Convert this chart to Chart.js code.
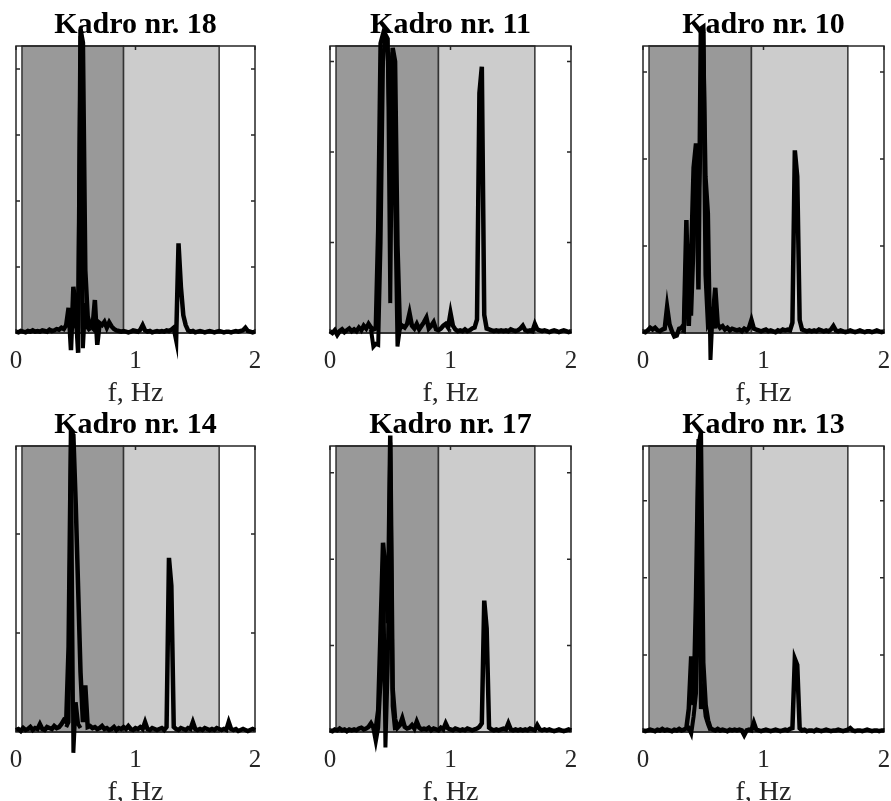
<!DOCTYPE html>
<html>
<head>
<meta charset="utf-8">
<title>Kadro spectra</title>
<script src="https://cdn.jsdelivr.net/npm/chart.js"></script>
<style>
    html, body { margin: 0; padding: 0; background: #fff; }
    body { width: 891px; height: 801px; overflow: hidden; position: relative; }
    .panel { position: absolute; }
</style>
</head>
<body>
<div id="grid"></div>
<script>
// frequency grid, Hz
const freq = [
    0, 0.02, 0.04, 0.06, 0.08, 0.10, 0.12, 0.14, 0.16, 0.18,
    0.20, 0.22, 0.24, 0.26, 0.28, 0.30, 0.32, 0.34, 0.36, 0.38,
    0.40, 0.42, 0.44, 0.46, 0.48, 0.50, 0.52, 0.54, 0.56, 0.58,
    0.60, 0.62, 0.64, 0.66, 0.68, 0.70, 0.72, 0.74, 0.76, 0.78,
    0.80, 0.82, 0.84, 0.86, 0.88, 0.90, 0.92, 0.94, 0.96, 0.98,
    1.00, 1.02, 1.04, 1.06, 1.08, 1.10, 1.12, 1.14, 1.16, 1.18,
    1.20, 1.22, 1.24, 1.26, 1.28, 1.30, 1.32, 1.34, 1.36, 1.38,
    1.40, 1.42, 1.44, 1.46, 1.48, 1.50, 1.52, 1.54, 1.56, 1.58,
    1.60, 1.62, 1.64, 1.66, 1.68, 1.70, 1.72, 1.74, 1.76, 1.78,
    1.80, 1.82, 1.84, 1.86, 1.88, 1.90, 1.92, 1.94, 1.96, 1.98,
    2.00
];

const titles = ['Kadro nr. 18', 'Kadro nr. 11', 'Kadro nr. 10', 'Kadro nr. 14', 'Kadro nr. 17', 'Kadro nr. 13'];
const xTicks = [0, 1, 2];
const yMax = [4.35, 3.17, 3.30, 2.89, 3.31, 3.71];

// shaded frequency bands
const bandFrom = [0.05, 0.9];
const bandTo = [0.9, 1.7];
const bandColors = ['#999999', '#cccccc'];

const k18 = [
    0.02, 0.01, 0.03, 0.02, 0.01, 0.03, 0.02, 0.04, 0.02, 0.03,
    0.02, 0.04, 0.03, 0.02, 0.05, 0.03, 0.04, 0.06, 0.05, 0.08,
    0.06, 0.12, 0.38, -0.26, 0.70, 0.35, -0.30, 4.60, 4.40, 0.95,
    0.25, 0.12, 0.08, 0.50, -0.18, 0.15, 0.12, 0.17, 0.08, 0.16,
    0.10, 0.06, 0.04, 0.03, 0.02, 0.03, 0.02, 0.01, 0.02, 0.04,
    0.03, 0.02, 0.05, 0.12, 0.04, 0.02, 0.03, 0.01, 0.02, 0.03,
    0.02, 0.03, 0.02, 0.04, 0.03, 0.05, 0.08, -0.10, 1.36, 0.70,
    0.27, 0.12, 0.04, 0.02, 0.03, 0.01, 0.02, 0.03, 0.02, 0.01,
    0.02, 0.03, 0.02, 0.01, 0.02, 0.03, 0.02, 0.01, 0.02, 0.02,
    0.01, 0.02, 0.03, 0.02, 0.03, 0.04, 0.08, 0.03, 0.02, 0.01,
    0.02
];
const k18ExtraF = [0.46, 0.48, 0.50, 0.52, 0.54, 0.56, 0.58, 0.60, 0.62];
const k18Extra = [0.05, 0.20, 0.10, 0.10, 4.50, -0.23, 0.45, 0.08, 0.03];

const k11 = [
    0.02, 0.00, 0.03, -0.02, 0.02, 0.04, 0.01, 0.03, 0.05, 0.02,
    0.04, 0.02, 0.06, 0.03, 0.08, 0.05, 0.10, 0.06, 0.04, 0.05,
    1.14, 3.20, 3.30, 3.20, 3.10, 2.06, 3.15, 3.00, 0.97, 0.05,
    0.08, 0.06, 0.10, 0.22, 0.08, 0.05, 0.10, 0.04, 0.08, 0.12,
    0.17, 0.05, 0.08, 0.12, 0.04, 0.03, 0.05, 0.08, 0.10, 0.06,
    0.22, 0.08, 0.04, 0.02, 0.03, 0.02, 0.04, 0.02, 0.03, 0.05,
    0.06, 0.15, 2.65, 2.94, 0.20, 0.05, 0.04, 0.03, 0.02, 0.03,
    0.02, 0.03, 0.02, 0.03, 0.02, 0.04, 0.03, 0.02, 0.03, 0.05,
    0.08, 0.03, 0.02, 0.03, 0.02, 0.10, 0.04, 0.03, 0.02, 0.03,
    0.02, 0.01, 0.02, 0.03, 0.02, 0.01, 0.02, 0.03, 0.02, 0.01,
    0.02
];
const k11ExtraF = [0.34, 0.36, 0.38, 0.40, 0.42, 0.44, 0.46, 0.48, 0.50, 0.52, 0.54, 0.56, 0.58];
const k11Extra = [0.04, -0.15, -0.12, -0.13, 1.00, 3.00, 3.30, 3.25, 0.33, 3.10, 1.50, -0.15, 0.05];

const k10 = [
    0.02, 0.01, 0.03, 0.06, 0.04, 0.06, 0.03, 0.02, 0.04, 0.05,
    0.30, 0.10, 0.02, -0.04, -0.03, 0.05, 0.06, 0.10, 1.30, 0.08,
    0.90, 1.90, 2.18, 0.50, 3.50, 3.52, 0.67, 0.10, 0.15, 0.20,
    0.52, 0.10, 0.06, 0.08, 0.04, 0.06, 0.03, 0.05, 0.04, 0.03,
    0.04, 0.02, 0.05, 0.03, 0.06, 0.15, 0.05, 0.04, 0.03, 0.02,
    0.03, 0.04, 0.02, 0.03, 0.02, 0.01, 0.03, 0.02, 0.04, 0.03,
    0.04, 0.03, 0.12, 2.10, 1.80, 0.15, 0.04, 0.03, 0.02, 0.03,
    0.02, 0.03, 0.02, 0.04, 0.03, 0.02, 0.03, 0.02, 0.04, 0.08,
    0.03, 0.02, 0.03, 0.02, 0.01, 0.02, 0.03, 0.02, 0.01, 0.02,
    0.03, 0.02, 0.01, 0.02, 0.02, 0.01, 0.02, 0.03, 0.02, 0.01,
    0.02
];
const k10ExtraF = [0.32, 0.34, 0.36, 0.38, 0.40, 0.42, 0.44, 0.46, 0.48, 0.50, 0.52, 0.54, 0.56, 0.58, 0.60];
const k10Extra = [0.03, 0.02, 1.00, 1.00, 0.20, 1.00, 1.87, 1.50, 2.20, 3.50, 1.80, 1.38, -0.31, 0.30, 0.05];

const k14 = [
    0.02, 0.03, 0.01, 0.04, 0.02, 0.03, 0.05, 0.02, 0.04, 0.03,
    0.08, 0.03, 0.02, 0.05, 0.04, 0.03, 0.06, 0.04, 0.05, 0.08,
    0.12, 0.10, 0.86, 3.03, 3.00, 2.30, 1.45, 0.60, 0.10, 0.47,
    0.05, 0.06, 0.04, 0.05, 0.03, 0.04, 0.06, 0.03, 0.04, 0.02,
    0.03, 0.05, 0.02, 0.04, 0.03, 0.05, 0.03, 0.06, 0.03, 0.02,
    0.04, 0.03, 0.05, 0.03, 0.10, 0.03, 0.02, 0.04, 0.03, 0.02,
    0.03, 0.04, 0.02, 0.05, 1.76, 1.48, 0.05, 0.03, 0.02, 0.04,
    0.03, 0.02, 0.04, 0.03, 0.10, 0.03, 0.02, 0.03, 0.02, 0.04,
    0.03, 0.02, 0.03, 0.02, 0.04, 0.03, 0.02, 0.03, 0.02, 0.10,
    0.03, 0.02, 0.03, 0.01, 0.02, 0.03, 0.02, 0.01, 0.02, 0.03,
    0.02
];
const k14ExtraF = [0.42, 0.44, 0.46, 0.48, 0.50, 0.52, 0.54];
const k14Extra = [0.05, 0.10, 2.90, -0.21, 0.30, 0.08, 0.04];

const k17 = [
    0.02, 0.01, 0.03, 0.02, 0.04, 0.02, 0.03, 0.01, 0.03, 0.02,
    0.03, 0.02, 0.04, 0.05, 0.03, 0.04, 0.06, 0.10, 0.05, 0.04,
    0.25, 1.20, 2.19, 1.87, 1.26, 3.43, 0.50, 0.15, 0.05, 0.08,
    0.16, 0.06, 0.04, 0.05, 0.08, 0.04, 0.12, 0.05, 0.03, 0.04,
    0.03, 0.05, 0.02, 0.04, 0.03, 0.02, 0.05, 0.03, 0.10, 0.04,
    0.03, 0.02, 0.04, 0.03, 0.02, 0.03, 0.02, 0.04, 0.03, 0.02,
    0.03, 0.04, 0.06, 0.10, 1.52, 1.20, 0.05, 0.03, 0.02, 0.03,
    0.02, 0.03, 0.04, 0.03, 0.10, 0.03, 0.02, 0.03, 0.02, 0.03,
    0.02, 0.03, 0.02, 0.04, 0.03, 0.02, 0.08, 0.03, 0.02, 0.03,
    0.02, 0.03, 0.02, 0.01, 0.02, 0.03, 0.02, 0.01, 0.02, 0.03,
    0.02
];
const k17ExtraF = [0.36, 0.38, 0.40, 0.42, 0.44, 0.46, 0.48, 0.50, 0.52, 0.54];
const k17Extra = [0.04, -0.11, 0.05, 0.60, 2.00, -0.18, 0.80, 3.35, 0.30, 0.02];

const k13 = [
    0.02, 0.01, 0.02, 0.03, 0.02, 0.01, 0.03, 0.02, 0.04, 0.02,
    0.03, 0.02, 0.01, 0.03, 0.02, 0.04, 0.02, 0.03, 0.05, 0.30,
    0.98, 0.35, 1.76, 3.70, 3.88, 0.90, 0.35, 0.15, 0.05, 0.03,
    0.02, 0.04, 0.02, 0.03, 0.02, 0.01, 0.03, 0.02, 0.03, 0.02,
    0.03, 0.02, -0.04, 0.02, 0.03, 0.02, 0.12, 0.03, 0.02, 0.01,
    0.02, 0.03, 0.02, 0.01, 0.02, 0.03, 0.02, 0.01, 0.02, 0.03,
    0.02, 0.04, 0.05, 0.95, 0.87, 0.05, 0.02, 0.03, 0.01, 0.02,
    0.02, 0.01, 0.03, 0.02, 0.01, 0.02, 0.03, 0.02, 0.01, 0.02,
    0.02, 0.03, 0.02, 0.01, 0.02, 0.03, 0.05, 0.02, 0.01, 0.02,
    0.02, 0.01, 0.02, 0.03, 0.02, 0.01, 0.02, 0.02, 0.01, 0.02,
    0.02
];
const k13ExtraF = [0.36, 0.38, 0.40, 0.42, 0.44, 0.46, 0.48, 0.50, 0.52, 0.54, 0.56];
const k13Extra = [0.03, 0.05, -0.02, 0.20, 0.50, 3.80, 0.30, 0.50, 0.20, 0.10, 0.02];

const mainSeries = [k18, k11, k10, k14, k17, k13];
const extraF = [k18ExtraF, k11ExtraF, k10ExtraF, k14ExtraF, k17ExtraF, k13ExtraF];
const extraSeries = [k18Extra, k11Extra, k10Extra, k14Extra, k17Extra, k13Extra];

// panel placement (plot area in page pixels)
const colLeft = [16, 330, 643];
const colWidth = [239, 241, 241];
const rowTop = [46, 446];
const rowHeight = [287, 286];
const SIDE = 30, TOP = 46, BOTTOM = 81;
const FONT = "'Liberation Serif', 'Times New Roman', serif";

const framePlugin = {
    id: 'frame',
    beforeDatasetsDraw(chart) {
        const { ctx, chartArea: a, scales: { x, y } } = chart;
        const h = a.bottom - a.top;
        ctx.save();
        bandFrom.forEach((f, i) => {
            const x0 = x.getPixelForValue(f);
            const x1 = x.getPixelForValue(bandTo[i]);
            ctx.fillStyle = bandColors[i];
            ctx.fillRect(x0, a.top, x1 - x0, h);
            ctx.strokeStyle = '#333';
            ctx.lineWidth = 1.5;
            ctx.strokeRect(x0, a.top, x1 - x0, h);
        });

        ctx.strokeStyle = '#262626';
        ctx.lineWidth = 1.5;
        ctx.strokeRect(a.left, a.top, a.right - a.left, h);

        // inward tick marks
        ctx.beginPath();
        x.ticks.forEach(t => {
            const px = x.getPixelForValue(t.value);
            ctx.moveTo(px, a.top);
            ctx.lineTo(px, a.top + 4);
            ctx.moveTo(px, a.bottom);
            ctx.lineTo(px, a.bottom - 4);
        });
        y.ticks.forEach(t => {
            if (t.value <= 0 || t.value >= y.max) return;
            const py = y.getPixelForValue(t.value);
            ctx.moveTo(a.left, py);
            ctx.lineTo(a.left + 4, py);
            ctx.moveTo(a.right, py);
            ctx.lineTo(a.right - 4, py);
        });
        ctx.stroke();
        ctx.restore();
    }
};

const grid = document.getElementById('grid');

titles.forEach((title, i) => {
    const col = i % 3;
    const row = Math.floor(i / 3);

    const box = document.createElement('div');
    box.className = 'panel';
    box.style.left = (colLeft[col] - SIDE) + 'px';
    box.style.top = (rowTop[row] - TOP) + 'px';
    box.style.width = (colWidth[col] + 2 * SIDE) + 'px';
    box.style.height = (TOP + rowHeight[row] + BOTTOM) + 'px';
    const canvas = document.createElement('canvas');
    box.appendChild(canvas);
    grid.appendChild(box);

    const main = mainSeries[i].map((v, k) => ({ x: freq[k], y: v }));
    const extra = extraSeries[i].map((v, k) => ({ x: extraF[i][k], y: v }));

    new Chart(canvas, {
        type: 'line',
        data: {
            datasets: [
                {
                    data: main,
                    borderColor: '#000',
                    borderWidth: 4.5,
                    pointRadius: 0,
                    tension: 0,
                    clip: false
                },
                {
                    data: extra,
                    borderColor: '#000',
                    borderWidth: 4,
                    pointRadius: 0,
                    tension: 0,
                    clip: false
                }
            ]
        },
        options: {
            responsive: true,
            maintainAspectRatio: false,
            animation: false,
            devicePixelRatio: 1,
            layout: { padding: { left: SIDE, right: SIDE, top: 0, bottom: 0 } },
            plugins: {
                legend: { display: false },
                tooltip: { enabled: false },
                title: {
                    display: true,
                    text: title,
                    color: '#000',
                    font: { family: FONT, size: 30, weight: 'bold', lineHeight: 1.2 },
                    padding: { top: 6.9, bottom: 3.1 }
                }
            },
            scales: {
                x: {
                    type: 'linear',
                    min: 0,
                    max: 2,
                    afterBuildTicks: s => { s.ticks = xTicks.map(v => ({ value: v })); },
                    ticks: {
                        color: '#262626',
                        padding: 5,
                        font: { family: FONT, size: 25, lineHeight: 1.2 },
                        maxRotation: 0
                    },
                    grid: { display: false },
                    border: { display: false },
                    title: {
                        display: true,
                        text: 'f, Hz',
                        color: '#262626',
                        font: { family: FONT, size: 28, lineHeight: 1.2 },
                        padding: { top: 4, bottom: 4 }
                    },
                    afterFit: s => {
                        s.height = BOTTOM;
                        s.paddingLeft = 0;
                        s.paddingRight = 0;
                    }
                },
                y: {
                    type: 'linear',
                    min: 0,
                    max: yMax[i],
                    ticks: { display: false, stepSize: 1, includeBounds: false },
                    grid: { display: false },
                    border: { display: false },
                    afterFit: s => {
                        s.width = 0;
                        s.paddingTop = 0;
                        s.paddingBottom = 0;
                    }
                }
            }
        },
        plugins: [framePlugin]
    });
});
</script>
</body>
</html>
